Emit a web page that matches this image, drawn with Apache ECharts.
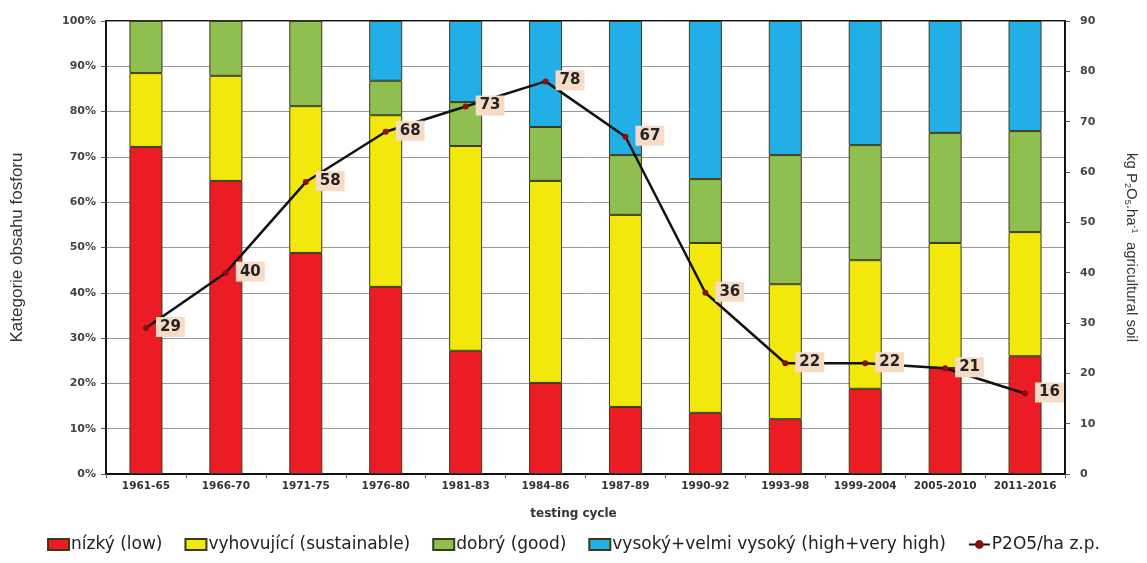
<!DOCTYPE html>
<html><head><meta charset="utf-8">
<script src="https://cdn.jsdelivr.net/npm/echarts@6/dist/echarts.min.js"></script>
<style>html,body{margin:0;padding:0;background:#fff}#c{width:1147px;height:563px}</style>
</head><body><div id="c"></div>
<script>
const categories = ['1961-65','1966-70','1971-75','1976-80','1981-83','1984-86','1987-89','1990-92','1993-98','1999-2004','2005-2010','2011-2016'];
const nizky = [72.2,64.7,48.8,41.3,27.2,20.1,14.8,13.5,12.1,18.8,23.4,26.0];
const vyhovujici = [16.3,23.2,32.4,37.9,45.2,44.6,42.4,37.5,29.8,28.4,27.6,27.4];
const dobry = [11.5,12.1,18.8,7.6,9.7,11.9,13.2,14.1,28.5,25.4,24.3,22.3];
const vysoky = [0,0,0,13.2,17.9,23.4,29.6,34.9,29.6,27.4,24.7,24.3];
const p2o5 = [29,40,58,68,73,78,67,36,22,22,21,16];
const leftTicks = [0,10,20,30,40,50,60,70,80,90,100];
const rightTicks = [0,10,20,30,40,50,60,70,80,90];

const font = 'Liberation Sans, Arial, sans-serif';
const wide = 'DejaVu Sans, sans-serif';
const chart = echarts.init(document.getElementById('c'));
function barSeries(name, data, color) {
  return {name, type:'bar', stack:'p', data, barWidth:33, yAxisIndex:0,
    itemStyle:{color, borderColor:'#3a3a1a', borderWidth:1}, z:2};
}
chart.setOption({
  animation:false,
  textStyle:{fontFamily:font},
  grid:{left:106, right:78, top:21, bottom:89, show:true, borderColor:'#111', borderWidth:2, backgroundColor:'transparent'},
  legend:{
    bottom:5, left:'center', itemWidth:21, itemHeight:11, itemGap:22,
    textStyle:{fontFamily:wide, fontSize:17, color:'#222', padding:[0,0,0,-3]},
    data:[
      {name:'nízký (low)', icon:'rect'},
      {name:'vyhovující (sustainable)', icon:'rect'},
      {name:'dobrý (good)', icon:'rect'},
      {name:'vysoký+velmi vysoký (high+very high)', icon:'rect'},
      {name:'P2O5/ha z.p.'}
    ]
  },
  xAxis:{
    type:'category', data:categories,
    name:'testing cycle', nameLocation:'middle', nameGap:34,
    nameTextStyle:{fontFamily:wide, fontSize:12, fontWeight:'bold', color:'#333', padding:[0,24,0,0]},
    axisLine:{lineStyle:{color:'#111', width:2}},
    axisTick:{show:true, length:4, lineStyle:{color:'#555'}},
    axisLabel:{fontFamily:wide, fontSize:10.5, fontWeight:'bold', color:'#333', margin:7, interval:0},
    splitLine:{show:false}
  },
  yAxis:[
    {type:'value', min:0, max:100, interval:10, position:'left',
     name:'Kategorie obsahu fosforu', nameLocation:'middle', nameGap:80, nameRotate:90,
     nameTextStyle:{fontSize:17, color:'#333'},
     axisLine:{show:true, lineStyle:{color:'#111', width:2}},
     axisTick:{show:true, length:5, lineStyle:{color:'#555'}},
     axisLabel:{fontFamily:wide, fontSize:11, fontWeight:'bold', color:'#444', margin:10, formatter:v=>v+'%'},
     splitLine:{show:true, lineStyle:{color:'#9a9a9a', width:1}}
    },
    {type:'value', min:0, max:90, interval:10, position:'right',
     name:'{a|kg P}{s|2}{a|O}{s|5}{a|.ha}{p|-1}{a|  agricultural soil}', nameLocation:'middle', nameGap:58, nameRotate:-90,
     nameTextStyle:{rich:{a:{fontSize:15, color:'#333'}, s:{fontSize:9, color:'#333', verticalAlign:'bottom', padding:[7,0,0,0]}, p:{fontSize:9, color:'#333', verticalAlign:'top', padding:[0,0,7,0]}}},
     axisLine:{show:true, lineStyle:{color:'#111', width:2}},
     axisTick:{show:true, length:5, lineStyle:{color:'#555'}},
     axisLabel:{fontFamily:wide, fontSize:11, fontWeight:'bold', color:'#444', margin:15},
     splitLine:{show:false}
    }
  ],
  series:[
    barSeries('nízký (low)', nizky, '#ec1c24'),
    barSeries('vyhovující (sustainable)', vyhovujici, '#f2e80c'),
    barSeries('dobrý (good)', dobry, '#8fbf4f'),
    barSeries('vysoký+velmi vysoký (high+very high)', vysoky, '#22aee6'),
    {name:'P2O5/ha z.p.', type:'line', yAxisIndex:1, data:p2o5, z:5,
     symbol:'circle', symbolSize:6,
     itemStyle:{color:'#8b0d0d'},
     lineStyle:{color:'#111', width:2.5},
     label:{show:true, position:'right', distance:7, offset:[0,-1],
       fontFamily:wide, fontSize:15, fontWeight:'bold', color:'#222', backgroundColor:'#f6dcc6',
       padding:[3,4,2,4]}
    }
  ]
});
</script></body></html>
